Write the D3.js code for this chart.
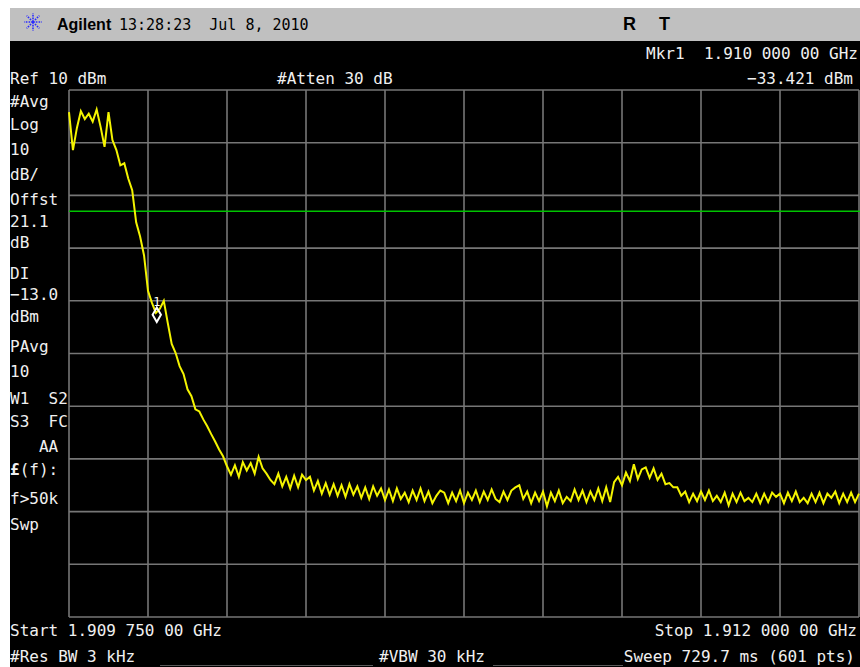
<!DOCTYPE html>
<html>
<head>
<meta charset="utf-8">
<script src="https://cdn.jsdelivr.net/npm/d3@7"></script>
<style>
  body { margin: 0; background: #fff; }
  svg { display: block; }
  .mono { font-family: "DejaVu Sans Mono", "Liberation Mono", monospace; font-size: 16px; fill: #f0f0f0; }
</style>
</head>
<body>
<svg id="fig" width="860" height="667"></svg>
<script>
// sweep settings (MHz / dBm)
var startFreq = 1909.75;
var stopFreq = 1912.0;
var refLevel = 10;
var dbPerDiv = 10;
var displayLine = -13.0;
var markerFreq = 1910.0;
var markerLevel = -33.421;

// trace, every 3rd sweep point (201 of 601)
var levels = [
    5.8, -1.4, 2.8, 6.0, 4.5, 5.5, 4.0, 6.3, 3.0, -0.8,
    5.8, 0.5, -1.4, -4.3, -3.9, -6.8, -9.0, -15.1, -17.8, -21.4,
    -28.1, -30.4, -32.3, -31.5, -30.0, -34.2, -38.2, -39.9, -42.4, -43.9,
    -46.8, -48.1, -50.6, -51.0, -52.5, -53.8, -55.3, -56.7, -58.2, -59.5,
    -61.4, -63.0, -61.2, -63.4, -60.6, -62.2, -60.8, -62.8, -59.6, -61.8,
    -62.8, -64.0, -64.8, -62.8, -65.2, -63.4, -65.6, -63.2, -65.4, -63.0,
    -64.0, -63.4, -66.0, -64.2, -66.6, -64.6, -66.8, -64.8, -67.0, -65.0,
    -67.2, -64.8, -66.8, -65.2, -67.4, -65.4, -67.6, -65.2, -67.0, -65.6,
    -67.8, -65.8, -68.0, -65.6, -67.6, -66.4, -68.2, -66.0, -67.8, -65.6,
    -68.0, -66.2, -68.4, -67.0, -66.0, -66.4, -68.4, -66.4, -68.0, -66.0,
    -68.4, -66.4, -67.8, -66.0, -68.2, -66.2, -67.8, -65.8, -67.6, -68.2,
    -66.2, -67.8, -66.0, -65.4, -65.0, -67.6, -66.2, -68.4, -66.4, -68.0,
    -66.2, -69.0, -66.4, -68.0, -66.0, -68.4, -67.2, -68.0, -65.8, -67.8,
    -66.0, -68.2, -66.2, -67.8, -65.6, -68.0, -65.4, -68.2, -64.4, -63.4,
    -65.0, -62.6, -64.2, -61.0, -63.8, -62.0, -61.6, -63.6, -61.8, -64.0,
    -62.8, -64.8, -64.6, -65.4, -65.4, -67.0, -66.2, -68.2, -66.6, -68.0,
    -66.2, -67.8, -66.0, -68.0, -67.0, -68.2, -66.4, -68.8, -66.6, -68.2,
    -66.4, -68.0, -67.4, -68.2, -66.6, -68.4, -66.6, -68.2, -66.4, -67.2,
    -66.6, -68.4, -66.4, -68.0, -66.2, -68.2, -67.4, -68.4, -66.6, -68.2,
    -66.4, -68.4, -66.6, -67.4, -66.2, -68.4, -66.6, -68.2, -66.4, -68.2,
    -66.6
];

// softkey-ish notes down the left side
var leftNotes = ["#Avg", "Log", "10", "dB/", "Offst", "21.1", "dB", "DI", "\u221213.0", "dBm",
                 "PAvg", "10", "W1  S2", "S3  FC", "   AA", "\u00a3(f):", "f>50k", "Swp"];
var leftNoteY = [107, 130, 155, 180, 205, 227, 248, 279, 300, 322,
                 352, 377, 404, 427, 452, 475, 504, 530];

var fig = d3.select("#fig");

var x = d3.scaleLinear().domain([startFreq, stopFreq]).range([69, 859]);
var y = d3.scaleLinear().domain([refLevel - 10 * dbPerDiv, refLevel]).range([617, 90]);

// screen background + title bar
fig.append("rect").attr("x", 10).attr("y", 8).attr("width", 850).attr("height", 33).attr("fill", "#c0c0c0");
fig.append("rect").attr("x", 10).attr("y", 41).attr("width", 850).attr("height", 626).attr("fill", "#000");

// Agilent spark logo
var logo = fig.append("g").attr("transform", "translate(33,22)");
d3.range(8).forEach(function (k) {
    var a = k * Math.PI / 4;
    logo.append("line")
        .attr("x1", 0).attr("y1", 0)
        .attr("x2", 9 * Math.cos(a)).attr("y2", 9 * Math.sin(a))
        .attr("stroke", "#2a2aff")
        .attr("stroke-width", 1.6)
        .attr("stroke-dasharray", "1.6,1.2");
});

fig.append("text").attr("x", 57).attr("y", 30)
    .style("font-family", "Liberation Sans, Arial, sans-serif")
    .style("font-weight", "bold").style("font-size", "16px")
    .text("Agilent");
fig.append("text").attr("x", 119).attr("y", 30)
    .style("font-family", "DejaVu Sans Mono, monospace").style("font-size", "15px")
    .attr("xml:space", "preserve")
    .text("13:28:23  Jul 8, 2010");
fig.append("text").attr("x", 623).attr("y", 30)
    .style("font-family", "Liberation Sans, Arial, sans-serif")
    .style("font-weight", "bold").style("font-size", "18px")
    .text("R");
fig.append("text").attr("x", 659).attr("y", 30)
    .style("font-family", "Liberation Sans, Arial, sans-serif")
    .style("font-weight", "bold").style("font-size", "18px")
    .text("T");

// graticule
var xGrid = d3.range(11).map(function (i) { return startFreq + i * (stopFreq - startFreq) / 10; });
var yGrid = d3.range(11).map(function (i) { return refLevel - i * dbPerDiv; });

fig.append("g").selectAll("line.v")
    .data(xGrid)
    .enter()
    .append("line")
    .attr("x1", function (d) { return x(d); })
    .attr("x2", function (d) { return x(d); })
    .attr("y1", y.range()[1])
    .attr("y2", y.range()[0])
    .attr("stroke", "#767676")
    .attr("stroke-width", 1.6);

fig.append("g").selectAll("line.h")
    .data(yGrid)
    .enter()
    .append("line")
    .attr("x1", x.range()[0])
    .attr("x2", x.range()[1])
    .attr("y1", function (d) { return y(d); })
    .attr("y2", function (d) { return y(d); })
    .attr("stroke", "#767676")
    .attr("stroke-width", 1.6);

// display line
fig.append("line")
    .attr("x1", x.range()[0]).attr("x2", 860)
    .attr("y1", y(displayLine)).attr("y2", y(displayLine))
    .attr("stroke", "#00c400")
    .attr("stroke-width", 1.6);

// trace
var step = (stopFreq - startFreq) / (levels.length - 1);
var line = d3.line()
    .x(function (d, i) { return x(startFreq + i * step); })
    .y(function (d) { return y(d); });

fig.append("path")
    .datum(levels)
    .attr("d", line)
    .attr("fill", "none")
    .attr("stroke", "#f4f400")
    .attr("stroke-width", 2)
    .attr("stroke-linejoin", "miter");

// marker 1
var mx = x(markerFreq), my = y(markerLevel) - 4;
fig.append("path")
    .attr("d", d3.symbol().type(d3.symbolDiamond).size(60)())
    .attr("transform", "translate(" + mx + "," + my + ")")
    .attr("fill", "none")
    .attr("stroke", "#fff")
    .attr("stroke-width", 2);
fig.append("text").attr("x", mx).attr("y", my - 9)
    .attr("text-anchor", "middle")
    .style("font-family", "DejaVu Sans Mono, monospace").style("font-size", "12px")
    .style("fill", "#fff")
    .text("1");

// readouts
function readout(txt, px, py, anchor) {
    return fig.append("text")
        .attr("class", "mono")
        .attr("x", px).attr("y", py)
        .attr("text-anchor", anchor || "start")
        .attr("xml:space", "preserve")
        .text(txt);
}

readout("Mkr1  1.910 000 00 GHz", 858, 59, "end");
readout("Ref 10 dBm", 10, 84);
readout("#Atten 30 dB", 277, 84);
readout("\u221233.421 dBm", 853, 84, "end");
readout("Start 1.909 750 00 GHz", 10, 636);
readout("Stop 1.912 000 00 GHz", 857, 636, "end");
readout("#Res BW 3 kHz", 10, 662);
readout("#VBW 30 kHz", 379, 662);
readout("Sweep 729.7 ms (601 pts)", 855, 662, "end");

leftNotes.forEach(function (t, i) {
    if (t.charAt(0) === "\u00a3") {
        // pound sign is drawn bold on the instrument
        var tx = readout("", 10, leftNoteY[i]);
        tx.append("tspan").style("font-weight", "bold").text(t.charAt(0));
        tx.append("tspan").text(t.slice(1));
    } else {
        readout(t, 10, leftNoteY[i]);
    }
});

// thin separators under bottom readouts
[[160, 373], [493, 623]].forEach(function (s) {
    fig.append("line")
        .attr("x1", s[0]).attr("x2", s[1])
        .attr("y1", 665.5).attr("y2", 665.5)
        .attr("stroke", "#5a5a5a")
        .attr("stroke-width", 1);
});
</script>
</body>
</html>
